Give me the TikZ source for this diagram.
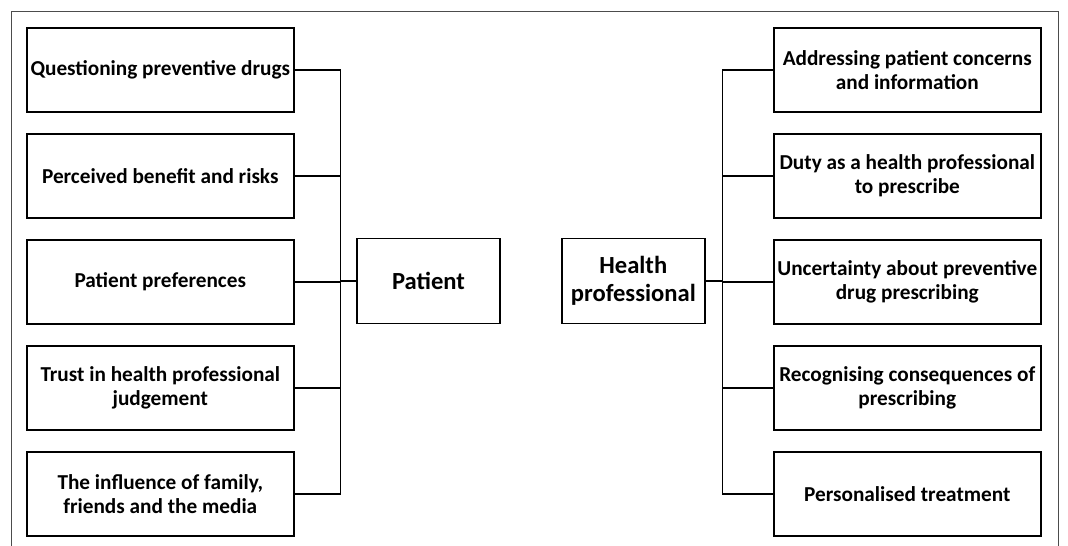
\documentclass[tikz,border=0pt]{standalone}
\usepackage{fontspec}
\setmainfont{Carlito}

\tikzset{
	theme/.style={draw, line width=1pt, inner xsep=0pt, minimum width=5.34cm, minimum height=1.68cm, align=center, font=\bfseries\fontsize{12.1}{13.5}\selectfont},
	actor/.style={draw, line width=1pt, inner xsep=0pt, minimum width=2.86cm, minimum height=1.7cm, align=center, font=\bfseries\fontsize{14}{16}\selectfont},
	link/.style={line width=0.75pt}
}

\begin{document}
\begin{tikzpicture}[x=0.02cm, y=-0.02cm]
	    \useasboundingbox (0,0) rectangle (1068,546);
	    \draw[gray!60!black, line width=0.55pt] (11,546) |- (1058,11) -- (1058,546);

	    \foreach \i/\txt in {1/Questioning preventive drugs, 2/Perceived benefit and risks, 3/Patient preferences, {4/Trust in health professional\\judgement}, {5/The influence of family,\\friends and the media}}
		\node[theme] (p\i) at (160.3, {70+106*(\i-1)}) {\txt};
	    \foreach \i/\txt in {1/Addressing patient concerns\\and information, 2/Duty as a health professional\\to prescribe, 3/Uncertainty about preventive\\drug prescribing, 4/Recognising consequences of\\prescribing, 5/Personalised treatment}
		\node[theme] (h\i) at (907.3, {70+106*(\i-1)}) {\txt};

	    \node[actor] (patient) at (428.5,281) {Patient};
	    \node[actor] (health) at (633.3,281) {Health\\professional};
	    \coordinate (pbus) at (340.7,281);
	    \coordinate (hbus) at (722.7,281);

	    \foreach \i in {1,...,5} {
		\draw[link] (p\i.east) -| (pbus);
		\draw[link] (h\i.west) -| (hbus);
	    }
	    \draw[link] (pbus) -- (patient);
	    \draw[link] (health) -- (hbus);
	\end{tikzpicture}
\end{document}
